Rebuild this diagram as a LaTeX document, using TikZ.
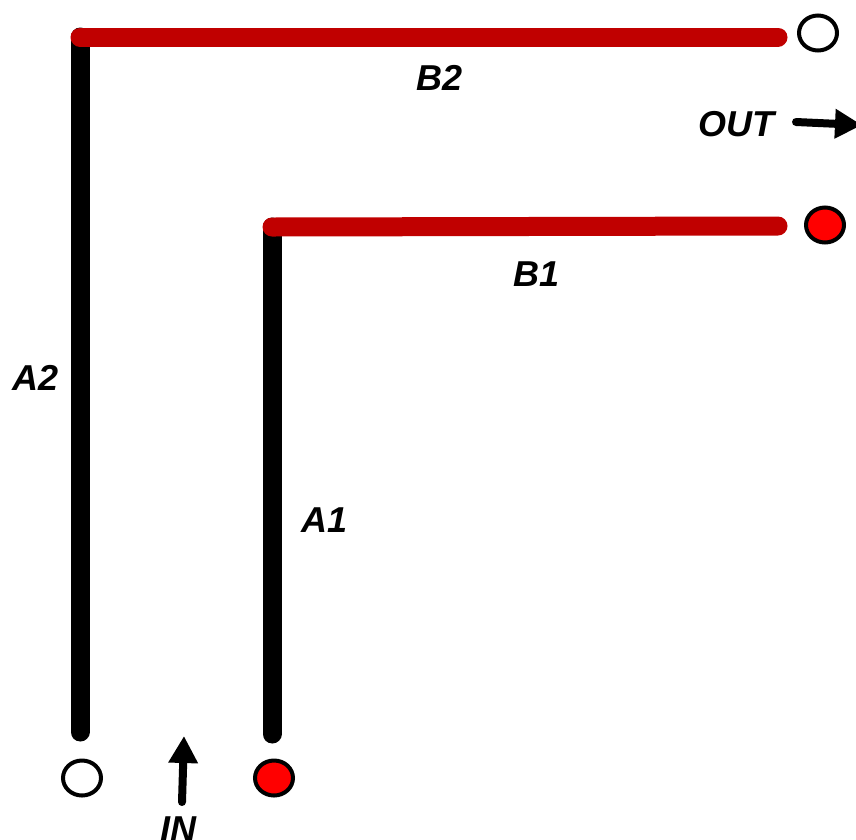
\documentclass[tikz,border=0pt]{standalone}
\usepackage{fontspec}
\setmainfont{Liberation Sans}
\usetikzlibrary{shapes.geometric,arrows.meta}
\definecolor{wirered}{RGB}{192,0,0}
\tikzset{
    port/.style={
           ellipse,
           draw=black, line width=4pt,
           minimum width=38pt,
           minimum height=35pt,
           inner sep=0pt
           },
    lead/.style={line width=19pt, line cap=round},
    lbl/.style={font=\fontsize{36}{36}\selectfont\bfseries\itshape, inner sep=0pt},
    flow/.style={line width=8pt, line cap=round,
           -{Triangle[length=27pt,width=28pt]}},
}
\begin{document}
\begin{tikzpicture}[x=1pt,y=-1pt]
             \useasboundingbox (0,0) rectangle (856,839);

             % end points of the two conductors
             \coordinate (A2bot) at (80,732);
             \coordinate (A2top) at (80,37);
             \coordinate (B2end) at (778,37);
             \coordinate (A1bot) at (272,734);
             \coordinate (A1top) at (272,227);
             \coordinate (B1end) at (778,226);

             \node[port, fill=white] (P2out) at (818,33) {};
             \node[port, fill=red] (P1out) at (825,225) {};
             \node[port, fill=white] (P2in) at (82,778) {};
             \node[port, fill=red] (P1in) at (274,778) {};

             \draw[lead, black] (A2bot) -- (A2top);
             \draw[lead, black] (A1bot) -- (A1top);
             \draw[lead, wirered] (A2top) -- (B2end);
             \draw[lead, wirered] (A1top) -- (B1end);

             \node[lbl] (B2) at (440,78) {B2};
             \node[lbl] (B1) at (537,274) {B1};
             \node[lbl] (A2) at (36,378) {A2};
             \node[lbl] (A1) at (325,520) {A1};
             \node[lbl] (OUT) at (736,124) {OUT};
             \node[lbl] (IN) at (178,829) {IN};

             \coordinate (INtail) at (182,802);
             \coordinate (INhead) at (184,736);
             \coordinate (OUTtail) at (796,122);
             \coordinate (OUThead) at (862,125);
             \draw[flow] (INtail) -- (INhead);
             \draw[flow] (OUTtail) -- (OUThead);
\end{tikzpicture}
\end{document}
